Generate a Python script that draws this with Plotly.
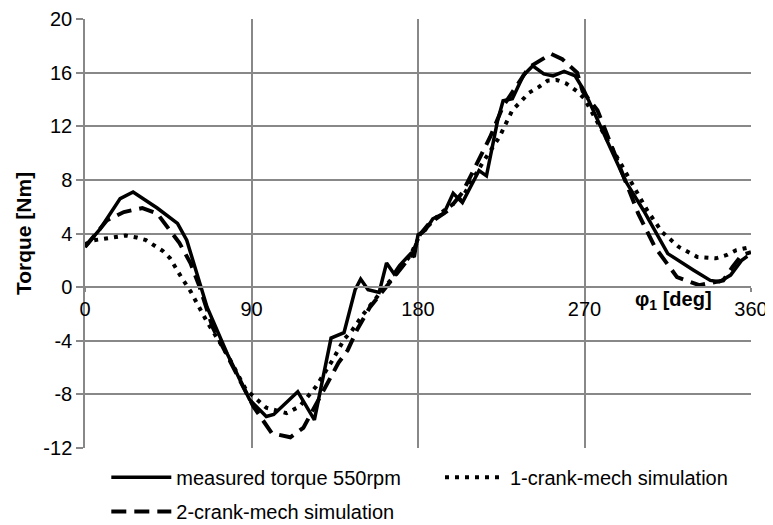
import plotly.graph_objects as go

# ---- data ----
theta_meas = [0, 8, 19, 26, 39, 50, 55, 66, 77, 89, 98, 102, 115, 124, 133, 140, 146, 149, 153, 159,
              163, 167, 170, 176, 178, 180, 184, 188, 194, 199, 204, 210, 213, 217, 220, 223, 226, 231,
              237, 242, 248, 253, 259, 265, 270, 278, 292, 302, 315, 329, 338, 343, 349, 355, 358]
torque_meas = [3.0, 4.3, 6.6, 7.1, 5.9, 4.75, 3.5, -1.5, -5.0, -8.4, -9.65, -9.5, -7.8, -9.9, -3.8, -3.4,
               -0.2, 0.6, -0.2, -0.4, 1.8, 1.0, 1.6, 2.5, 2.25, 3.9, 4.25, 5.1, 5.5, 7.0, 6.3, 7.95, 8.7,
               8.3, 10.2, 12.4, 13.9, 14.05, 15.8, 16.5, 15.9, 15.75, 16.1, 15.75, 14.6, 12.2, 7.95, 5.7,
               2.5, 1.26, 0.5, 0.4, 0.9, 2.0, 2.3]

theta_one = [0, 5, 15, 22, 28, 33, 42, 46, 52, 57, 66, 77, 87, 98, 109, 116, 125, 134, 140, 144, 150,
             156, 162, 170, 176, 181, 192, 204, 215, 224, 231, 236, 240, 245, 250, 255, 260, 266, 270,
             281, 289, 297, 304, 312, 321, 331, 341, 347, 352, 360]
torque_one = [3.2, 3.5, 3.7, 3.85, 3.7, 3.5, 2.7, 2.15, 0.75, -0.3, -2.6, -5.05, -7.65, -9.0, -9.4, -8.9,
              -7.4, -5.4, -3.9, -3.3, -2.1, -1.0, 0.0, 1.3, 2.4, 3.9, 5.5, 6.7, 9.3, 11.2, 13.2, 13.9,
              14.5, 14.9, 15.4, 15.45, 15.2, 14.6, 14.05, 11.3, 9.4, 7.4, 5.7, 4.1, 3.0, 2.25, 2.15, 2.4,
              2.75, 3.0]

theta_two = [0, 12, 21, 31, 39, 46, 51, 57, 62, 69, 84, 91, 101, 111, 118, 127, 137, 142, 147, 154, 163,
             170, 177, 181, 186, 196, 204, 212, 219, 226, 233, 240, 252, 258, 266, 269, 277, 292, 299,
             308, 320, 332, 339, 345, 350, 355, 360]
torque_two = [3.0, 5.0, 5.6, 5.9, 5.5, 4.25, 3.3, 1.8, 0.0, -3.0, -7.1, -8.9, -10.9, -11.2, -10.5, -8.2,
              -5.65, -4.7, -3.2, -1.5, 0.0, 1.26, 2.5, 3.9, 4.75, 5.7, 7.05, 9.2, 11.2, 13.5, 14.9, 16.4,
              17.4, 17.0, 16.0, 14.6, 13.2, 7.95, 5.5, 3.0, 0.75, 0.15, 0.37, 0.5, 1.5, 2.4, 2.6]

x_ticks = [0, 90, 180, 270, 360]
y_ticks = [-12, -8, -4, 0, 4, 8, 12, 16, 20]
names = ["measured torque 550rpm", "1-crank-mech simulation", "2-crank-mech simulation"]

FONT = "Liberation Sans, Arial, sans-serif"
GRID = "#888888"
FS = 20

fig = go.Figure()
fig.add_trace(go.Scatter(x=theta_meas, y=torque_meas, mode="lines", name=names[0],
                         line=dict(color="black", width=3.5), legend="legend"))
fig.add_trace(go.Scatter(x=theta_one, y=torque_one, mode="lines", name=names[1],
                         line=dict(color="black", width=4, dash="4px,6px"), legend="legend2"))
fig.add_trace(go.Scatter(x=theta_two, y=torque_two, mode="lines", name=names[2],
                         line=dict(color="black", width=4, dash="15px,8px"), legend="legend3"))

y_min, y_max = y_ticks[0], y_ticks[-1]

legend_common = dict(orientation="h", xanchor="left", yanchor="middle", itemwidth=60,
                     font=dict(size=FS, family=FONT), bgcolor="rgba(0,0,0,0)")

# page has an 8px body margin, so the figure is sized/offset to compensate
fig.update_layout(
    width=765, height=517,
    margin=dict(l=77, r=22, t=11, b=77, autoexpand=False),
    paper_bgcolor="white", plot_bgcolor="white",
    font=dict(family=FONT, size=FS, color="black"),
    xaxis=dict(range=[x_ticks[0], x_ticks[-1]], tickvals=x_ticks, ticktext=[str(v) for v in x_ticks],
               showgrid=True, gridcolor=GRID, gridwidth=1.5, zeroline=False,
               showline=True, linecolor=GRID, linewidth=1.5,
               anchor="free", position=(0 - y_min) / (y_max - y_min),
               ticks="outside", ticklen=4, tickcolor=GRID, tickwidth=1.5,
               ticklabelstandoff=0,
               tickfont=dict(size=FS, family=FONT), fixedrange=True),
    yaxis=dict(range=[y_min, y_max], tickvals=y_ticks, ticktext=[str(v) for v in y_ticks],
               showgrid=True, gridcolor=GRID, gridwidth=1.5, zeroline=False,
               showline=True, linecolor=GRID, linewidth=1.5,
               ticks="outside", ticklen=7, tickcolor=GRID, tickwidth=1.5,
               tickfont=dict(size=FS, family=FONT),
               title=dict(text="<b>Torque [Nm]</b>", font=dict(size=21, family=FONT), standoff=6)),
    legend=dict(x=0.032, y=-0.068, **legend_common),
    legend2=dict(x=0.533, y=-0.068, **legend_common),
    legend3=dict(x=0.032, y=-0.148, **legend_common),
    showlegend=True,
)

fig.add_annotation(x=318, y=-1.0, xref="x", yref="y", text="<b>φ<sub>1</sub> [deg]</b>",
                   showarrow=False, font=dict(size=FS, family=FONT, color="black"))

fig.write_html("out.html")
